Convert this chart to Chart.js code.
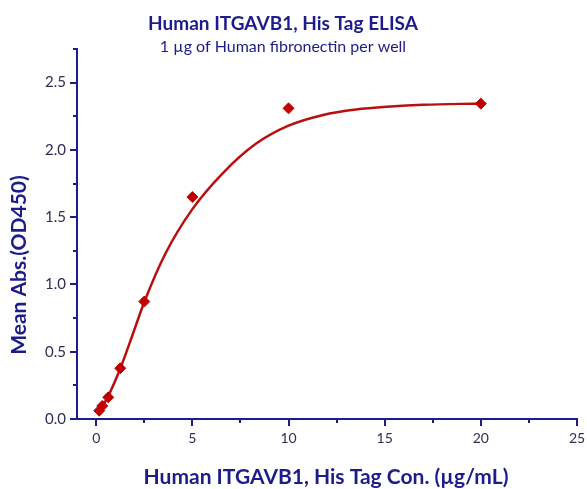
<!DOCTYPE html>
<html>
<head>
<meta charset="utf-8">
<script src="https://cdn.jsdelivr.net/npm/chart.js@4.4.1/dist/chart.umd.min.js"></script>
<style>
  html, body { margin: 0; padding: 0; background: #fff; }
  #wrap { width: 587px; height: 489px; }
</style>
</head>
<body>
<div id="wrap"><canvas id="elisaChart" width="587" height="489"></canvas></div>
<script>
// measured points (conc. ug/mL, OD450)
var concValues = [0.156, 0.3125, 0.625, 1.25, 2.5, 5, 10, 20];
var odValues = [0.062, 0.097, 0.161, 0.377, 0.873, 1.65, 2.309, 2.344];

// fitted curve
var fitX = [0.13, 0.3, 0.625, 1.25, 1.9, 2.5, 3.6, 5, 6.6, 8.3, 10, 11.8, 13.5, 15.3, 17, 20];
var fitY = [0.05, 0.09, 0.17, 0.375, 0.63, 0.87, 1.23, 1.56, 1.83, 2.045, 2.18, 2.26, 2.3, 2.322, 2.335, 2.345];

// axis ticks
var xTicks = [0, 2.5, 5, 7.5, 10, 12.5, 15, 17.5, 20, 22.5, 25];
var xMajor = [0, 5, 10, 15, 20, 25];
var yTicks = [0, 0.25, 0.5, 0.75, 1, 1.25, 1.5, 1.75, 2, 2.25, 2.5, 2.75];
var yMajor = [0, 0.5, 1, 1.5, 2, 2.5];

var NAVY = '#1c1c8a';
var RED = '#b80f0f';
var LABEL = '#2e2e58';
var FONT = 'Lato, "Open Sans", sans-serif';

// chart title, subtitle and axis titles
var titlePlugin = {
    id: 'titles',
    afterDraw: function(chart) {
        var ctx = chart.ctx;
        ctx.save();
        ctx.fillStyle = NAVY;
        ctx.textAlign = 'center';
        ctx.textBaseline = 'alphabetic';
        ctx.font = 'bold 19px ' + FONT;
        ctx.fillText('Human ITGAVB1, His Tag ELISA', 283, 30);
        ctx.font = '16px ' + FONT;
        ctx.fillText('1 \u00b5g of Human fibronectin per well', 283, 52);
        ctx.font = 'bold 21px ' + FONT;
        ctx.fillText('Human ITGAVB1, His Tag Con. (\u00b5g/mL)', 326, 484);
        ctx.translate(26, 265);
        ctx.rotate(-Math.PI / 2);
        ctx.fillText('Mean Abs.(OD450)', 0, 0);
        ctx.restore();
    }
};

// major / minor tick marks
var tickPlugin = {
    id: 'tickMarks',
    afterDraw: function(chart) {
        var ctx = chart.ctx;
        var xs = chart.scales.x, ys = chart.scales.y;
        ctx.save();
        ctx.strokeStyle = NAVY;
        ctx.lineWidth = 2;
        ctx.beginPath();
        xTicks.forEach(function(v) {
            var px = Math.round(xs.getPixelForValue(v));
            var len = xMajor.indexOf(v) >= 0 ? 7 : 4;
            ctx.moveTo(px, xs.top);
            ctx.lineTo(px, xs.top + len);
        });
        yTicks.forEach(function(v) {
            var py = Math.round(ys.getPixelForValue(v));
            var len = yMajor.indexOf(v) >= 0 ? 7 : 4;
            ctx.moveTo(ys.right, py);
            ctx.lineTo(ys.right - len, py);
        });
        ctx.stroke();
        ctx.restore();
    }
};

var ctx = document.getElementById('elisaChart').getContext('2d');
var elisaChart = new Chart(ctx, {
    type: 'scatter',
    data: {
        datasets: [{
            label: 'fit',
            type: 'line',
            data: fitX.map(function(x, i) { return { x: x, y: fitY[i] }; }),
            borderColor: RED,
            borderWidth: 2.5,
            pointRadius: 0,
            cubicInterpolationMode: 'monotone',
            fill: false,
            order: 2
        }, {
            label: 'data',
            data: concValues.map(function(x, i) { return { x: x, y: odValues[i] }; }),
            pointStyle: 'rectRot',
            pointRadius: 5.5,
            backgroundColor: '#c00000',
            borderColor: '#c00000',
            borderWidth: 1,
            order: 1
        }]
    },
    options: {
        responsive: false,
        animation: false,
        layout: { padding: { top: 49, right: 10, left: 0, bottom: 0 } },
        plugins: {
            legend: { display: false },
            tooltip: { enabled: false }
        },
        scales: {
            x: {
                type: 'linear',
                min: -1,
                max: 25,
                afterBuildTicks: function(axis) {
                    axis.ticks = xTicks.map(function(v) { return { value: v }; });
                },
                afterFit: function(axis) {
                    axis.height = 70;
                    axis.paddingLeft = 0;
                    axis.paddingRight = 0;
                },
                grid: { display: true, drawOnChartArea: false, drawTicks: false },
                border: { display: true, color: NAVY, width: 2 },
                ticks: {
                    padding: 11,
                    autoSkip: false,
                    maxRotation: 0,
                    color: LABEL,
                    font: { family: FONT, size: 14 },
                    callback: function(v) { return xMajor.indexOf(v) >= 0 ? String(v) : ''; }
                }
            },
            y: {
                type: 'linear',
                min: 0,
                max: 2.75,
                afterBuildTicks: function(axis) {
                    axis.ticks = yTicks.map(function(v) { return { value: v }; });
                },
                afterFit: function(axis) {
                    axis.width = 77;
                    axis.paddingTop = 0;
                    axis.paddingBottom = 0;
                },
                grid: { display: true, drawOnChartArea: false, drawTicks: false },
                border: { display: true, color: NAVY, width: 2 },
                ticks: {
                    padding: 11,
                    autoSkip: false,
                    color: LABEL,
                    font: { family: FONT, size: 15 },
                    callback: function(v) { return yMajor.indexOf(v) >= 0 ? v.toFixed(1) : ''; }
                }
            }
        }
    },
    plugins: [titlePlugin, tickPlugin]
});
</script>
</body>
</html>
